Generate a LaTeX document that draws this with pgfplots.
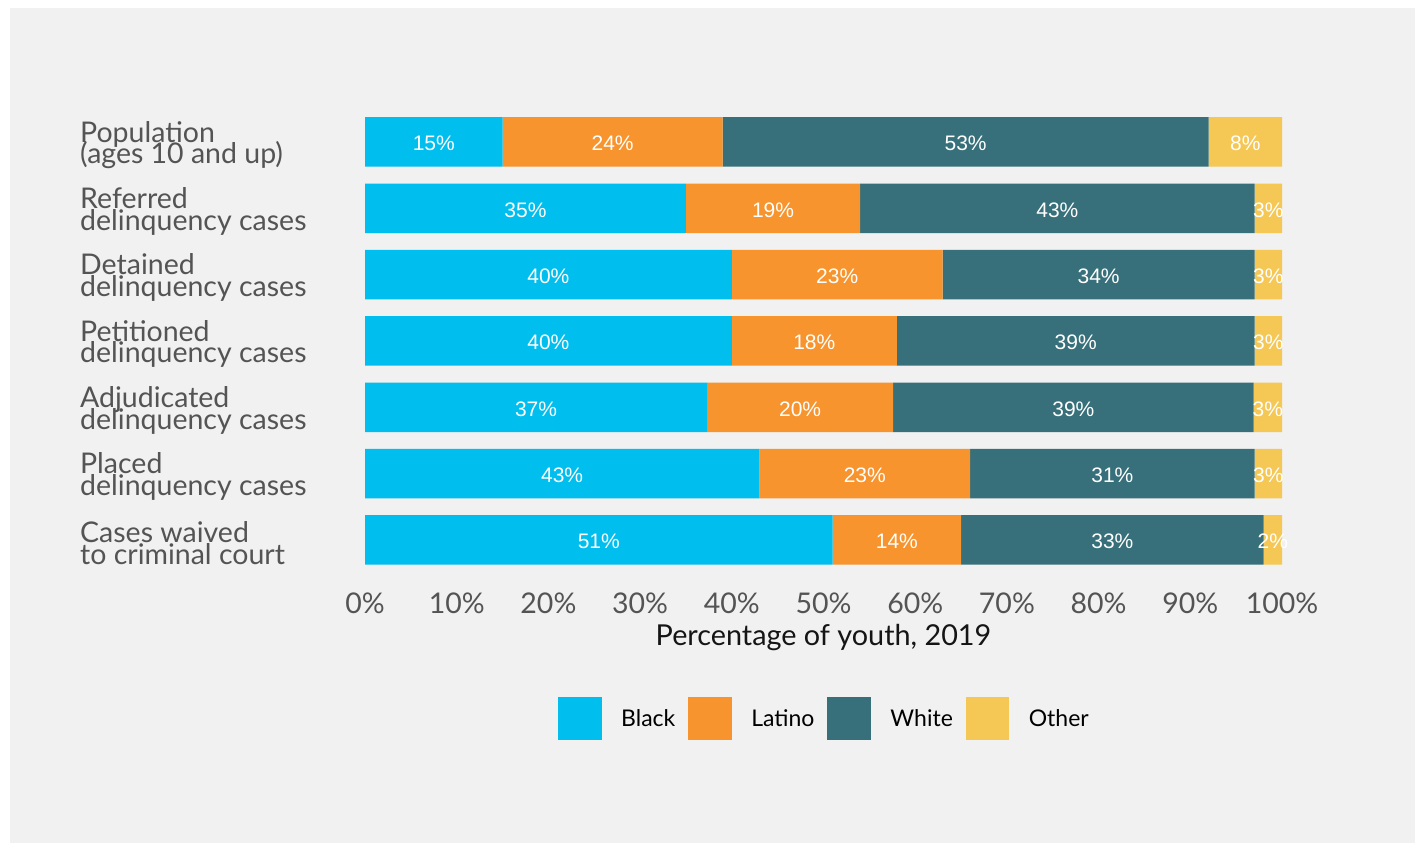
\documentclass[border=0pt]{standalone}
\usepackage{pgfplots}
\pgfplotsset{compat=1.18}
\usepackage{pgfplotstable}
\usepackage{fontspec}
\setmainfont{Lato}
\newfontfamily\arialfont{Liberation Sans}
\definecolor{cBlack}{HTML}{00BEEE}
\definecolor{cLatino}{HTML}{F7942D}
\definecolor{cWhite}{HTML}{37707A}
\definecolor{cOther}{HTML}{F5C754}
\definecolor{panel}{HTML}{F1F1F1}
\definecolor{lblgray}{HTML}{545454}
\definecolor{titleblack}{HTML}{151515}
\newcommand{\catfont}{\fontsize{28.5bp}{21.6bp}\selectfont\lineskiplimit -100pt\relax\lineskip 0pt\relax}

\pgfplotstableread{
idx Black Latino White Other
0 15 24 53 8
1 35 19 43 3
2 40 23 34 3
3 40 18 39 3
4 37.3 20.3 39.3 3.1
5 43 23 31 3
6 51 14 33 2
}\datatable

\newcommand{\addseries}[2]{%
  \addplot[fill=#2, draw=none,
    point meta=explicit,
    nodes near coords={\pgfmathprintnumber[fixed,precision=0]{\pgfplotspointmeta}\%},
    every node near coord/.append style={anchor=center, text=white, yshift=-1.5bp,
      font=\arialfont\fontsize{21bp}{24bp}\selectfont, inner sep=0pt},
    legend image code/.code={\fill[#2] (0bp,-21.5bp) rectangle (43.5bp,21.5bp);}
  ] table[x=#1, y=idx, meta=#1] {\datatable};
  \addlegendentry{#1}
}

\begin{document}
\begin{tikzpicture}
\fill[white] (0,0) rectangle (1420bp,845bp);
\fill[panel] (10bp,2bp) rectangle (1415bp,837bp);
\begin{axis}[
  at={(365bp,736.2bp)}, anchor=north west,
  scale only axis, width=917bp, height=464.3bp,
  xmin=0, xmax=100, ymin=-0.5, ymax=6.5, y dir=reverse,
  xbar stacked, bar width=49.5bp,
  axis line style={draw=none},
  major tick length=0pt,
  tick style={draw=none},
  /pgf/number format/assume math mode=true,
  xtick={0,10,...,100},
  xticklabel={\pgfmathprintnumber{\tick}\%},
  xticklabel style={anchor=base, yshift=-40bp, inner sep=0pt,
    font=\fontsize{28.5bp}{30bp}\selectfont, text=lblgray},
  ytick={0,...,6},
  yticklabels={{Population\\(ages 10 and up)},{Referred\\delinquency cases},{Detained\\delinquency cases},{Petitioned\\delinquency cases},{Adjudicated\\delinquency cases},{Placed\\delinquency cases},{Cases waived\\to criminal court}},
  yticklabel style={anchor=west, xshift=-285bp, yshift=-3bp, align=left, inner sep=0pt,
    font=\catfont, text=lblgray},
  xlabel={Percentage of youth, 2019},
  x label style={at={(axis description cs:0.5,0)}, anchor=base, yshift=-72.5bp, inner sep=0pt,
    font=\fontsize{28.8bp}{30bp}\selectfont, text=titleblack},
  legend columns=4,
  legend cell align=left,
  legend style={at={(axis description cs:0.5,-0.314)}, anchor=center,
    draw=none, fill=none, inner sep=0pt,
    font=\fontsize{23bp}{26bp}\selectfont, text=black,
    nodes={inner sep=0pt},
    /tikz/every odd column/.append style={column sep=19.5bp},
    /tikz/every even column/.append style={column sep=13bp}},
]
\addseries{Black}{cBlack}
\addseries{Latino}{cLatino}
\addseries{White}{cWhite}
\addseries{Other}{cOther}
\end{axis}
\pgfresetboundingbox
\useasboundingbox (0,0) rectangle (1420bp,845bp);
\end{tikzpicture}
\end{document}
